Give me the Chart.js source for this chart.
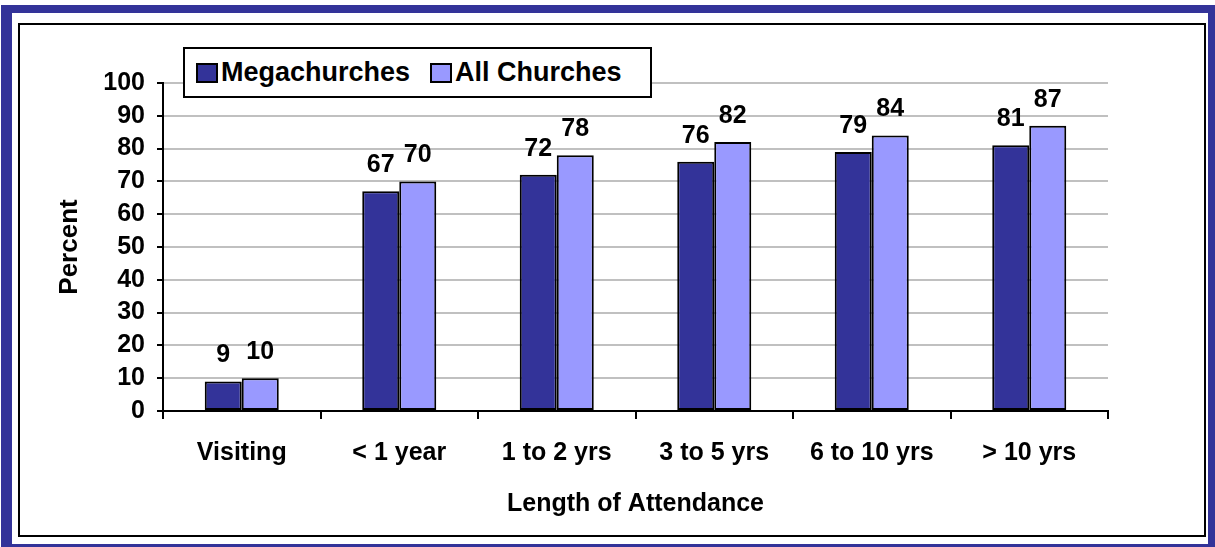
<!DOCTYPE html>
<html>
<head>
<meta charset="utf-8">
<script src="https://cdn.jsdelivr.net/npm/chart.js@4"></script>
<style>
  html, body { margin: 0; padding: 0; background: #fff; overflow: hidden; }
  #page { position: relative; width: 1215px; height: 547px; }
  #frame { position: absolute; left: 1px; top: 5px; width: 1196px; height: 531px;
    border-style: solid; border-color: #333399; border-width: 8px 7px 3px 11px; }
  #box { position: absolute; left: 18px; top: 23px; width: 1184px; height: 510px; border: 2px solid #000; }
  #chart { position: absolute; left: 0; top: 0; }
  #legend { position: absolute; left: 183px; top: 47px; width: 465px; height: 47px;
    border: 2px solid #000; background: #fff; font: bold 27px "Liberation Sans", Arial, sans-serif;
    display: flex; align-items: center; }
  .item { display: flex; align-items: center; margin-left: 11px; }
  .item + .item { margin-left: 20px; }
  .sw { width: 18px; height: 16px; border: 2px solid #000; margin-right: 3px; }
</style>
</head>
<body>
<div id="page">
  <div id="frame"></div>
  <div id="box"></div>
  <canvas id="chart" width="1215" height="547"></canvas>
  <div id="legend"></div>
</div>
<script>
const categories = ["Visiting", "< 1 year", "1 to 2 yrs", "3 to 5 yrs", "6 to 10 yrs", "> 10 yrs"];
const megachurches = [9, 67, 72, 76, 79, 81];
const allChurches = [10, 70, 78, 82, 84, 87];
const seriesNames = ["Megachurches", "All Churches"];
const seriesColors = ["#333399", "#9999FF"];

const FONT = '"Liberation Sans", Arial, sans-serif';

// value labels above each bar
const barLabels = {
  id: "barLabels",
  afterDatasetsDraw(chart) {
    const ctx = chart.ctx;
    ctx.save();
    ctx.font = "bold 25px " + FONT;
    ctx.fillStyle = "#000";
    ctx.textAlign = "center";
    ctx.textBaseline = "alphabetic";
    chart.data.datasets.forEach((ds, i) => {
      chart.getDatasetMeta(i).data.forEach((bar, j) => {
        ctx.fillText(ds.data[j], bar.x, bar.y - 19);
      });
    });
    ctx.restore();
  }
};

const datasets = [megachurches, allChurches].map((vals, i) => ({
  label: seriesNames[i],
  data: vals,
  backgroundColor: seriesColors[i],
  borderColor: "#000",
  borderWidth: 2,
  borderSkipped: false,
  categoryPercentage: 0.47,
  barPercentage: 1.0
}));

new Chart(document.getElementById("chart"), {
  type: "bar",
  data: { labels: categories, datasets: datasets },
  plugins: [barLabels],
  options: {
    responsive: false,
    animation: false,
    devicePixelRatio: 1,
    layout: { padding: { left: 20, top: 83, right: 107, bottom: 11 } },
    plugins: { legend: { display: false }, tooltip: { enabled: false } },
    scales: {
      x: {
        afterFit(s) { s.height = 125; },
        grid: { offset: true, drawOnChartArea: false, tickLength: 8, tickColor: "#000", lineWidth: 2 },
        border: { color: "#000", width: 2 },
        ticks: { color: "#000", font: { family: FONT, size: 25, weight: "bold" }, padding: 19, maxRotation: 0, autoSkip: false },
        title: { display: true, text: "Length of Attendance", color: "#000",
          font: { family: FONT, size: 25, weight: "bold" }, padding: { top: 0, bottom: 17 } }
      },
      y: {
        min: 0, max: 100,
        afterFit(s) { s.width = 143; },
        grid: { color: "#c0c0c0", lineWidth: 2, tickLength: 6, tickColor: "#000" },
        border: { color: "#000", width: 2 },
        ticks: { stepSize: 10, autoSkip: false, color: "#000", font: { family: FONT, size: 25, weight: "bold" }, padding: 12 },
        title: { display: true, text: "Percent", color: "#000",
          font: { family: FONT, size: 26, weight: "bold" }, padding: { top: 34, bottom: 0 } }
      }
    }
  }
});

// legend built from the same series arrays
const legend = document.getElementById("legend");
seriesNames.forEach((name, i) => {
  const item = document.createElement("div");
  item.className = "item";
  const sw = document.createElement("div");
  sw.className = "sw";
  sw.style.background = seriesColors[i];
  item.appendChild(sw);
  item.appendChild(document.createTextNode(name));
  legend.appendChild(item);
});
</script>
</body>
</html>
